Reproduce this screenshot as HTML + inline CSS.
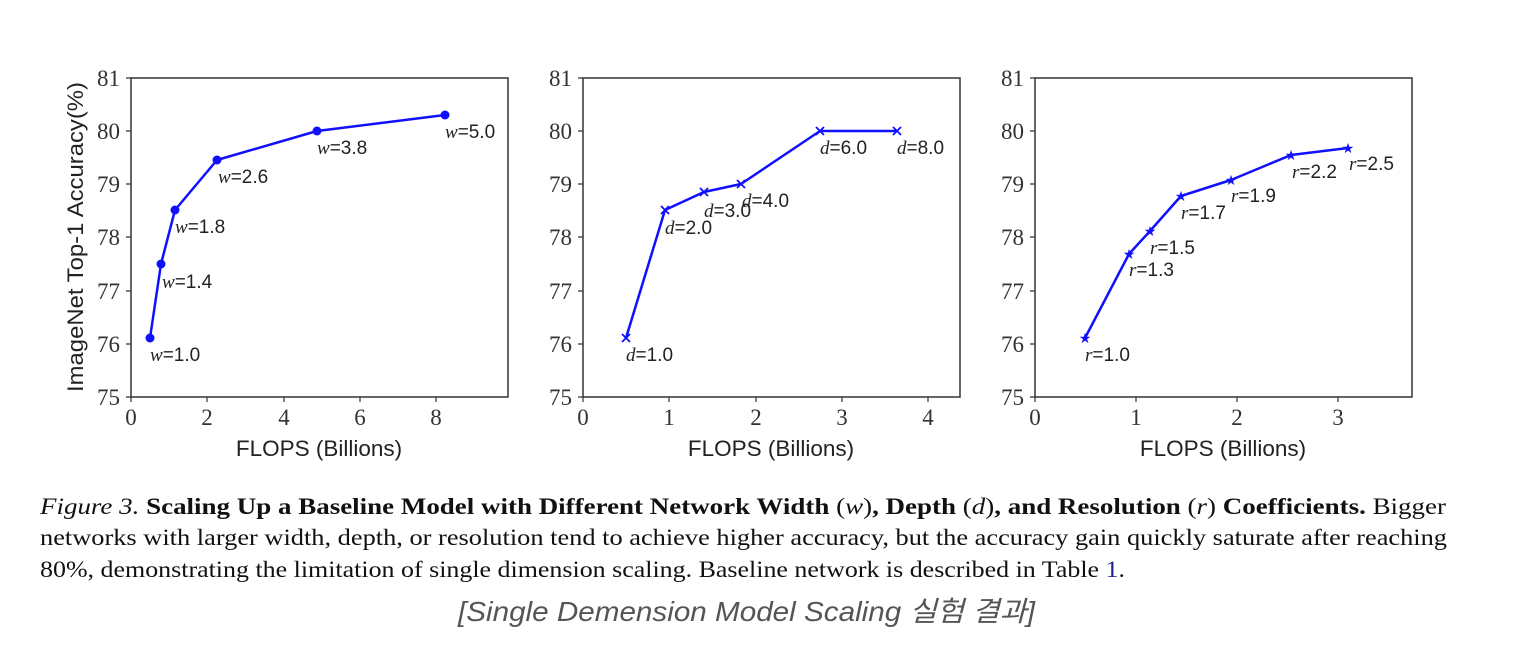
<!DOCTYPE html>
<html><head><meta charset="utf-8"><style>
html,body{margin:0;padding:0;background:#fff;}
svg{display:block;}
.tk{font-family:"Liberation Serif",serif;font-size:23px;fill:#333;}
.ax{font-family:"Liberation Sans",sans-serif;font-size:22.5px;fill:#222;}
.an{font-family:"Liberation Sans",sans-serif;font-size:19px;fill:#222;}
.an tspan.v{font-family:"Liberation Serif",serif;font-style:italic;}
.cap{font-family:"Liberation Serif",serif;font-size:23px;fill:#111;}
</style></head><body>
<svg width="1534" height="666" viewBox="0 0 1534 666" xmlns="http://www.w3.org/2000/svg">
<rect width="1534" height="666" fill="#fff"/>
<g stroke="#333" stroke-width="1.5" fill="none">
<rect x="131" y="78" width="377" height="319"/>
<rect x="583" y="78" width="377" height="319"/>
<rect x="1035" y="78" width="377" height="319"/>
</g>
<g stroke="#333" stroke-width="1.2">
<path d="M126 78H131M126 131H131M126 184H131M126 237H131M126 291H131M126 344H131M126 397H131"/>
<path d="M578 78H583M578 131H583M578 184H583M578 237H583M578 291H583M578 344H583M578 397H583"/>
<path d="M1030 78H1035M1030 131H1035M1030 184H1035M1030 237H1035M1030 291H1035M1030 344H1035M1030 397H1035"/>
<path d="M131 397V402M207 397V402M284 397V402M360 397V402M436 397V402"/>
<path d="M583 397V402M669 397V402M756 397V402M842 397V402M928 397V402"/>
<path d="M1035 397V402M1136 397V402M1237 397V402M1338 397V402"/>
</g>
<g class="tk" text-anchor="end">
<text x="120" y="86">81</text><text x="120" y="139">80</text><text x="120" y="192">79</text><text x="120" y="245">78</text><text x="120" y="299">77</text><text x="120" y="352">76</text><text x="120" y="405">75</text>
<text x="572" y="86">81</text><text x="572" y="139">80</text><text x="572" y="192">79</text><text x="572" y="245">78</text><text x="572" y="299">77</text><text x="572" y="352">76</text><text x="572" y="405">75</text>
<text x="1024" y="86">81</text><text x="1024" y="139">80</text><text x="1024" y="192">79</text><text x="1024" y="245">78</text><text x="1024" y="299">77</text><text x="1024" y="352">76</text><text x="1024" y="405">75</text>
</g>
<g class="tk" text-anchor="middle">
<text x="131" y="425">0</text><text x="207" y="425">2</text><text x="284" y="425">4</text><text x="360" y="425">6</text><text x="436" y="425">8</text>
<text x="583" y="425">0</text><text x="669" y="425">1</text><text x="756" y="425">2</text><text x="842" y="425">3</text><text x="928" y="425">4</text>
<text x="1035" y="425">0</text><text x="1136" y="425">1</text><text x="1237" y="425">2</text><text x="1338" y="425">3</text>
</g>
<g class="ax" text-anchor="middle">
<text x="319" y="456">FLOPS (Billions)</text>
<text x="771" y="456">FLOPS (Billions)</text>
<text x="1223" y="456">FLOPS (Billions)</text>
<text transform="translate(83,237) rotate(-90)" textLength="310" lengthAdjust="spacingAndGlyphs">ImageNet Top-1 Accuracy(%)</text>
</g>
<g stroke="#1010ff" stroke-width="2.5" fill="none" stroke-linejoin="round">
<polyline points="150,338 161,264 175,210 217,160 317,131 445,115"/>
<polyline points="626,338 665,210 704,192 741,184 820,131 897,131"/>
<polyline points="1085,338 1129,254 1150,231 1181,196 1231,180 1291,155 1348,148"/>
</g>
<g fill="#1010ff">
<circle cx="150" cy="338" r="4.5"/><circle cx="161" cy="264" r="4.5"/><circle cx="175" cy="210" r="4.5"/><circle cx="217" cy="160" r="4.5"/><circle cx="317" cy="131" r="4.5"/><circle cx="445" cy="115" r="4.5"/>
</g>
<g stroke="#1010ff" stroke-width="1.8">
<path d="M622 334l8 8M630 334l-8 8M661 206l8 8M669 206l-8 8M700 188l8 8M708 188l-8 8M737 180l8 8M745 180l-8 8M816 127l8 8M824 127l-8 8M893 127l8 8M901 127l-8 8"/>
</g>
<g fill="#1010ff" font-family="DejaVu Sans" font-size="14" text-anchor="middle">
<text x="1085" y="343">★</text><text x="1129" y="259">★</text><text x="1150" y="236">★</text><text x="1181" y="201">★</text><text x="1231" y="185">★</text><text x="1291" y="160">★</text><text x="1348" y="153">★</text>
</g>
<g class="an">
<text x="150" y="361"><tspan class="v">w</tspan>=1.0</text>
<text x="162" y="288"><tspan class="v">w</tspan>=1.4</text>
<text x="175" y="233"><tspan class="v">w</tspan>=1.8</text>
<text x="218" y="183"><tspan class="v">w</tspan>=2.6</text>
<text x="317" y="154"><tspan class="v">w</tspan>=3.8</text>
<text x="445" y="138"><tspan class="v">w</tspan>=5.0</text>
<text x="626" y="361"><tspan class="v">d</tspan>=1.0</text>
<text x="665" y="234"><tspan class="v">d</tspan>=2.0</text>
<text x="704" y="217"><tspan class="v">d</tspan>=3.0</text>
<text x="742" y="207"><tspan class="v">d</tspan>=4.0</text>
<text x="820" y="154"><tspan class="v">d</tspan>=6.0</text>
<text x="897" y="154"><tspan class="v">d</tspan>=8.0</text>
<text x="1085" y="361"><tspan class="v">r</tspan>=1.0</text>
<text x="1129" y="276"><tspan class="v">r</tspan>=1.3</text>
<text x="1150" y="254"><tspan class="v">r</tspan>=1.5</text>
<text x="1181" y="219"><tspan class="v">r</tspan>=1.7</text>
<text x="1231" y="202"><tspan class="v">r</tspan>=1.9</text>
<text x="1292" y="178"><tspan class="v">r</tspan>=2.2</text>
<text x="1349" y="170"><tspan class="v">r</tspan>=2.5</text>
</g>
<text class="cap" x="40" y="514" textLength="1406" lengthAdjust="spacingAndGlyphs"><tspan font-style="italic">Figure 3.</tspan> <tspan font-weight="bold">Scaling Up a Baseline Model with Different Network Width</tspan> (<tspan font-style="italic">w</tspan>)<tspan font-weight="bold">, Depth</tspan> (<tspan font-style="italic">d</tspan>)<tspan font-weight="bold">, and Resolution</tspan> (<tspan font-style="italic">r</tspan>) <tspan font-weight="bold">Coefficients.</tspan>  Bigger</text>
<text class="cap" x="40" y="545" textLength="1407" lengthAdjust="spacingAndGlyphs">networks with larger width, depth, or resolution tend to achieve higher accuracy, but the accuracy gain quickly saturate after reaching</text>
<text class="cap" x="40" y="577" textLength="1085" lengthAdjust="spacingAndGlyphs">80%, demonstrating the limitation of single dimension scaling. Baseline network is described in Table <tspan fill="#22228a">1</tspan>.</text>
<text x="458" y="621" textLength="577" lengthAdjust="spacingAndGlyphs" font-family="Liberation Sans, 'Noto Sans CJK KR', sans-serif" font-style="italic" font-size="28" fill="#555">[Single Demension Model Scaling 실험 결과]</text>
</svg>
</body></html>
